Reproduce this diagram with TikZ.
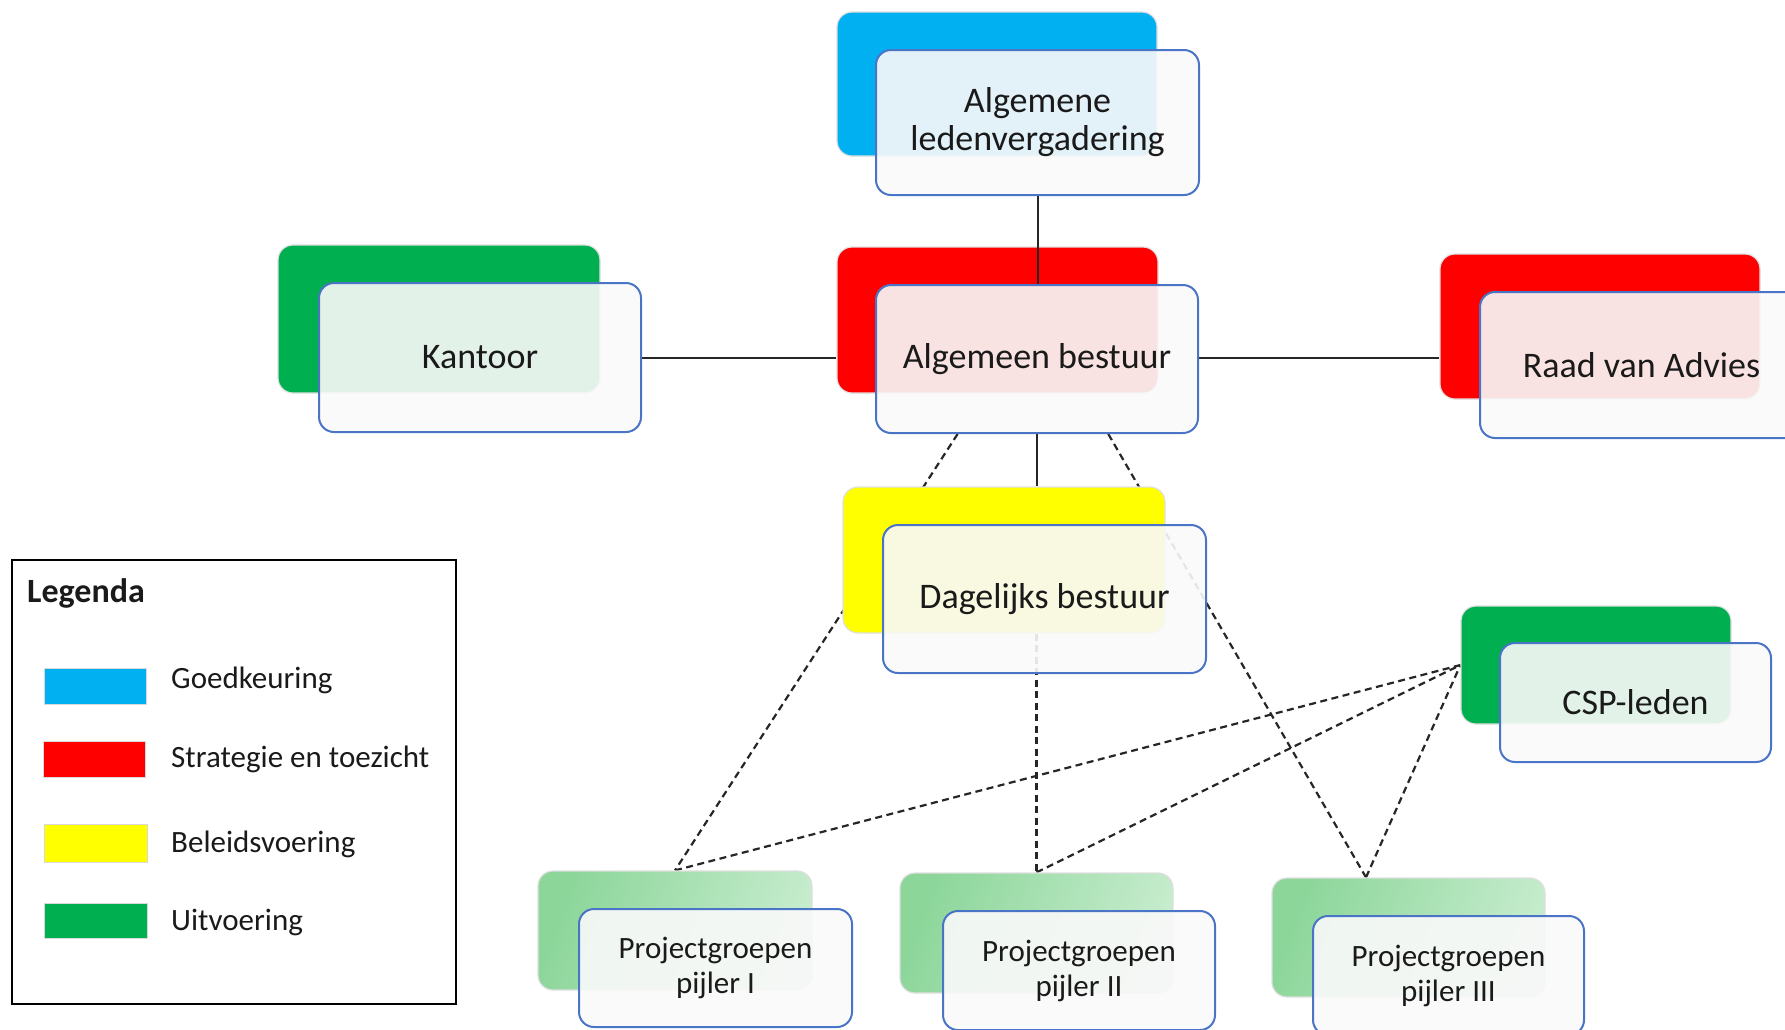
\documentclass[tikz,border=0pt]{standalone}
\usepackage{fontspec}
\setmainfont{Carlito}
\usetikzlibrary{calc}
\pgfdeclarelayer{lines}
\pgfdeclarelayer{backs}
\pgfdeclarelayer{mid}
\pgfsetlayers{lines,backs,mid,main}
\definecolor{cblue}{HTML}{00B0F0}
\definecolor{cred}{HTML}{FF0000}
\definecolor{cyellow}{HTML}{FFFF00}
\definecolor{cgreen}{HTML}{00B050}
\definecolor{pgA}{HTML}{8CD69A}
\definecolor{pgB}{HTML}{C6ECCD}
\definecolor{frameblue}{HTML}{4A74C6}
\definecolor{frontfill}{HTML}{F9F9F9}
\definecolor{txt}{HTML}{1A1A1A}
\tikzset{
  backbox/.style={rounded corners=15pt, draw=gray!25, line width=1.2pt, inner sep=0pt},
  frontbox/.style={rounded corners=15pt, draw=frameblue, line width=2pt, fill=frontfill, fill opacity=0.91, text opacity=1, text=txt, align=center, inner sep=0pt, font=\fontsize{36}{38}\selectfont},
  pjbox/.style={frontbox, font=\fontsize{31}{35}\selectfont},
  pjback/.style={backbox, left color=pgA, right color=pgB, shading angle=70},
  solidline/.style={draw=black!85, line width=2pt},
  dashline/.style={draw=black!85, line width=2.2pt, dash pattern=on 7pt off 4.5pt},
  swatch/.style={draw=gray!30, line width=1pt, inner sep=0pt},
  legtext/.style={anchor=base west, inner sep=0pt, text=txt, font=\fontsize{31}{36}\selectfont}
}
\begin{document}
\begin{tikzpicture}[x=1pt,y=-1pt]
\useasboundingbox (0,0) rectangle (1785,1029);
% back boxes
\begin{pgfonlayer}{backs}
\node[backbox, fill=cblue, minimum width=320, minimum height=144] (alvb) at (997,84) {};
\node[backbox, fill=cgreen, minimum width=322, minimum height=148] (kanb) at (439,319) {};
\node[backbox, fill=cred, minimum width=321, minimum height=146] (abb) at (997.5,320) {};
\node[backbox, fill=cred, minimum width=320, minimum height=145] (raadb) at (1600,326.5) {};
\node[backbox, fill=cyellow, minimum width=322, minimum height=146] (dbb) at (1004,560) {};
\node[backbox, fill=cgreen, minimum width=270, minimum height=118] (cspb) at (1596,665) {};
\node[pjback, minimum width=274, minimum height=119] (p1b) at (675,930.5) {};
\node[pjback, minimum width=273, minimum height=120] (p2b) at (1036.5,933) {};
\node[pjback, minimum width=273, minimum height=119] (p3b) at (1408.5,937.5) {};
\end{pgfonlayer}
% front boxes
\node[frontbox, minimum width=323, minimum height=145] (alv) at (1037.5,122.5) {Algemene\\ledenvergadering};
\node[frontbox, minimum width=322, minimum height=149] (kan) at (480,357.5) {Kantoor};
\node[frontbox, minimum width=322, minimum height=148] (ab) at (1037,359) {Algemeen bestuur};
\node[frontbox, minimum width=323, minimum height=146] (raad) at (1641.5,365) {Raad van Advies};
\node[frontbox, minimum width=323, minimum height=148] (db) at (1044.5,599) {Dagelijks bestuur};
\node[frontbox, minimum width=271, minimum height=119] (csp) at (1635.5,702.5) {CSP-leden};
\node[pjbox, minimum width=273, minimum height=118] (p1) at (715.5,968) {Projectgroepen\\pijler I};
\node[pjbox, minimum width=272, minimum height=119] (p2) at (1079,970.5) {Projectgroepen\\pijler II};
\node[pjbox, minimum width=271, minimum height=119] (p3) at (1448.5,975.5) {Projectgroepen\\pijler III};
% connectors
\begin{pgfonlayer}{mid}
\draw[solidline] (alv.south) -- (alv.south |- ab.north);
\end{pgfonlayer}
\begin{pgfonlayer}{lines}
\draw[solidline] (kan.east) -- (kan.east -| abb.west);
\draw[solidline] (ab.east |- kan.east) -- (kan.east -| raadb.west);
\draw[solidline] (ab.south) -- (ab.south |- dbb.north);
\coordinate (abL) at ($(ab.south west)!0.255!(ab.south east)$);
\coordinate (abR) at ($(ab.south west)!0.72!(ab.south east)$);
\coordinate (p3top) at ($(p3b.north west)!0.345!(p3b.north east)$);
\draw[dashline] (abL) -- (p1b.north);
\draw[dashline] (abR) -- (p3top);
\draw[dashline] (p2b.north |- db.center) -- (p2b.north);
\draw[dashline] (p1b.north) -- (cspb.west);
\draw[dashline] (p2b.north) -- (cspb.west);
\draw[dashline] (p3top) -- (cspb.west);
\end{pgfonlayer}
% legend
\node[draw=black, line width=2.5pt, minimum width=444, minimum height=444, inner sep=0pt] (leg) at (234,782) {};
\node[anchor=base west, inner sep=0pt, text=txt, font=\fontsize{34}{40}\selectfont\bfseries] (legt) at (27,602) {Legenda};
\node[swatch, fill=cblue, minimum width=102, minimum height=36] (s1) at (95,686) {};
\node[swatch, fill=cred, minimum width=102, minimum height=36] (s2) at (94,759) {};
\node[swatch, fill=cyellow, minimum width=103, minimum height=38] (s3) at (95.5,843) {};
\node[swatch, fill=cgreen, minimum width=103, minimum height=35] (s4) at (95.5,920.5) {};
\node[legtext] (l1) at (171,688) {Goedkeuring};
\node[legtext] (l2) at (171,767) {Strategie en toezicht};
\node[legtext] (l3) at (171,852) {Beleidsvoering};
\node[legtext] (l4) at (171,930) {Uitvoering};
\end{tikzpicture}
\end{document}
